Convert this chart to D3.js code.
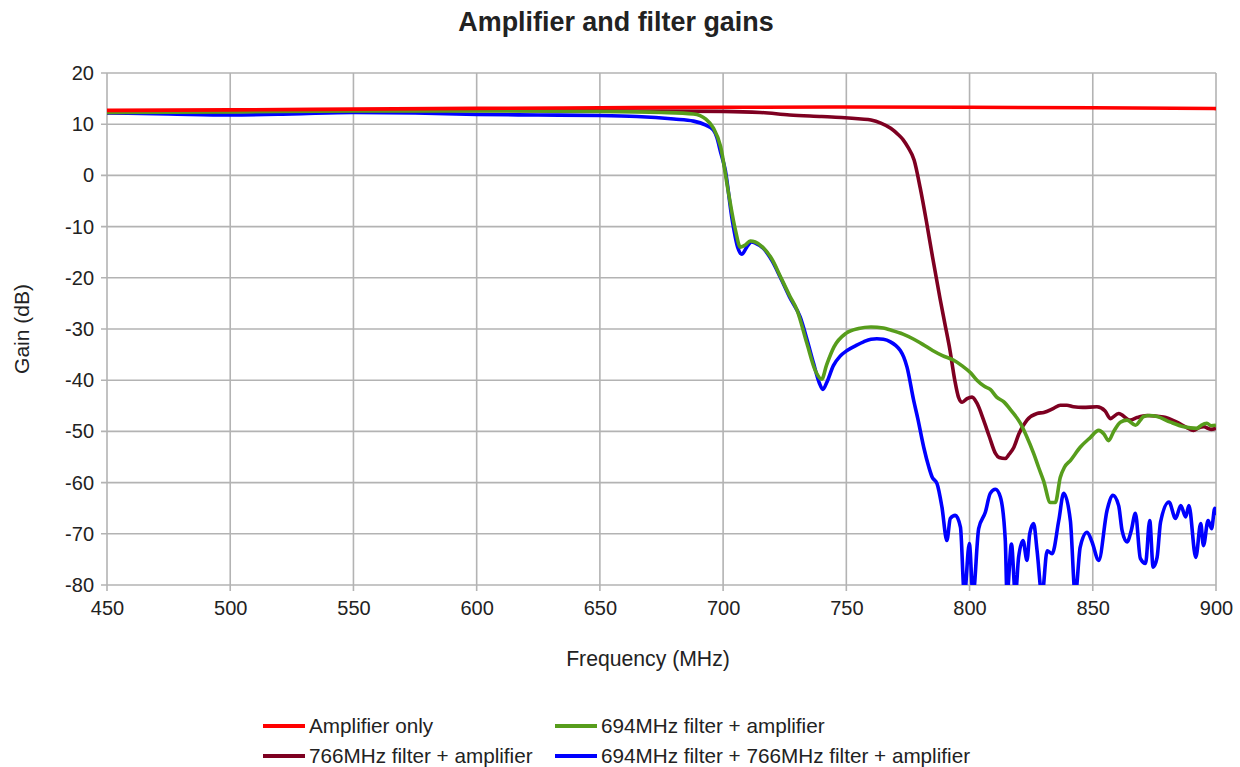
<!DOCTYPE html>
<html>
<head>
<meta charset="utf-8">
<script src="https://cdn.jsdelivr.net/npm/d3@7"></script>
<style>
  body { margin: 0; background: #fff; }
  text { font-family: "Liberation Sans", Arial, sans-serif; fill: #222; }
</style>
</head>
<body>
<svg id="chart" width="1240" height="767"></svg>
<script>
// frequency ticks / gain ticks
var xTicks = [450, 500, 550, 600, 650, 700, 750, 800, 850, 900];
var yTicks = [20, 10, 0, -10, -20, -30, -40, -50, -60, -70, -80];

// amplifier only
var ampFreq = [450, 500, 550, 600, 650, 700, 750, 800, 850, 900];
var ampGain = [12.7, 12.8, 12.95, 13.1, 13.2, 13.3, 13.35, 13.3, 13.2, 13.05];

// 694MHz filter + amplifier
var f694Freq = [450, 500, 550, 600, 650, 675, 688, 693, 696, 699, 702, 705, 707, 709, 711, 713, 716, 720, 723, 727, 730, 734, 737.4, 740, 742, 745, 750, 755, 760, 765, 768, 773, 777, 781, 785, 789, 793.6, 797, 800.3, 803, 806, 808.4, 811, 813.8, 817, 820.6, 823, 826, 828, 830, 832.8, 834.8, 836.8, 838.5, 840.9, 844.9, 849, 852.4, 854.5, 856.4, 858.5, 861.2, 863.9, 867.3, 870.7, 873, 876.1, 881.5, 886.9, 892.3, 894, 896.3, 898, 900];
var f694Gain = [12.3, 12.4, 12.6, 12.6, 12.5, 12.3, 12.0, 11.0, 9.3, 5.6, -2.9, -10.7, -14.0, -13.6, -12.8, -13.0, -14.0, -16.5, -19.5, -23.5, -26.3, -32.8, -38.1, -39.8, -37.0, -33.5, -30.8, -29.9, -29.6, -29.8, -30.2, -31.0, -31.9, -33.0, -34.2, -35.2, -36.1, -37.2, -38.5, -40.0, -41.2, -41.8, -43.3, -44.2, -46.0, -48.4, -50.8, -54.3, -57.0, -59.6, -63.9, -63.9, -59.0, -57.0, -55.7, -53.1, -51.2, -49.8, -50.5, -51.8, -50.0, -48.2, -47.8, -48.8, -47.1, -46.9, -47.1, -48.2, -49.1, -49.4, -48.8, -48.4, -48.9, -48.8];

// 766MHz filter + amplifier
var f766Freq = [450, 500, 550, 600, 650, 700, 715, 727, 740, 748, 756, 760, 764, 768, 771, 773, 775, 777.5, 780, 782.5, 785, 788, 790, 792, 794, 795.5, 797, 799, 801, 803, 805.7, 808, 810.5, 812, 814.5, 816, 818, 820, 823.3, 827.4, 830.1, 834.1, 836.8, 839.5, 842.2, 846, 851.7, 855, 857.1, 860.5, 865.2, 868, 872, 878.7, 884.1, 888, 890.9, 893, 895, 898, 900];
var f766Gain = [12.3, 12.5, 12.7, 12.7, 12.6, 12.5, 12.3, 11.8, 11.5, 11.3, 11.0, 10.8, 10.2, 9.2, 8.0, 7.0, 5.5, 3.0, -2.5, -9.0, -16.0, -24.0, -29.0, -34.0, -40.0, -43.3, -44.3, -43.6, -43.3, -44.5, -47.8, -51.0, -54.3, -55.1, -55.3, -54.5, -53.1, -50.5, -47.8, -46.5, -46.3, -45.5, -44.9, -44.9, -45.2, -45.3, -45.2, -46.0, -47.5, -46.5, -47.8, -47.3, -46.9, -47.2, -48.2, -49.2, -49.8, -49.3, -49.1, -49.6, -49.4];

// 694MHz filter + 766MHz filter + amplifier
var bothFreq = [450, 475, 500, 525, 550, 575, 600, 625, 650, 665, 680, 688, 693, 696, 697.4, 699, 700.9, 703.5, 705.9, 707.6, 709.6, 711.5, 713, 716.4, 720, 723.2, 727, 731.3, 734, 736.7, 739, 740.5, 742, 744.8, 747.5, 750.3, 754, 757, 760, 762.4, 765, 767.9, 770, 771.9, 773.3, 774.6, 777.3, 779, 781.4, 783.5, 784.8, 786.8, 788.8, 790.8, 792.2, 794.2, 796.3, 797.9, 799.9, 801.4, 803.7, 806.4, 808.4, 810.5, 812.5, 814.5, 815.2, 817, 818.6, 819.9, 821.7, 823.3, 824.4, 826, 827.4, 829.4, 831.5, 833.5, 836.2, 838.2, 840.9, 842.9, 844.9, 847.7, 849.7, 852.4, 855.8, 858.2, 860.5, 861.9, 863.9, 865.6, 867.3, 869.3, 871.4, 873.1, 874.5, 876.1, 877.5, 880.9, 883.6, 885.7, 887.7, 889, 891.8, 893.8, 894.9, 896.8, 898.2, 899.5, 900];
var bothGain = [12.2, 12.0, 11.8, 12.0, 12.3, 12.2, 11.9, 11.8, 11.7, 11.5, 11.0, 10.6, 9.8, 8.9, 7.5, 4.5, 1.0, -8.1, -14.0, -15.4, -14.0, -13.0, -13.2, -14.3, -16.8, -19.9, -23.8, -27.7, -32.0, -36.7, -40.5, -41.8, -40.5, -37.1, -35.3, -34.2, -33.2, -32.5, -32.0, -31.9, -32.0, -32.5, -33.2, -34.2, -35.5, -37.4, -43.9, -47.5, -53.1, -57.0, -58.9, -60.2, -64.8, -71.3, -67.0, -66.4, -68.7, -82, -71.9, -82, -69.0, -65.8, -62.1, -61.3, -62.8, -71.3, -82, -72.0, -82, -74.6, -71.3, -75.2, -70.0, -68.0, -73.3, -82, -73.3, -73.9, -67.4, -62.1, -67.4, -82, -72.6, -69.7, -71.6, -75.2, -65.4, -62.5, -64.5, -69.4, -71.6, -69.4, -66.0, -74.8, -75.8, -67.4, -76.5, -74.6, -67.7, -63.8, -67.0, -64.5, -66.7, -64.5, -74.6, -68.0, -72.3, -67.4, -69.0, -65.0, -66.4];

var seriesNames = ['Amplifier only', '694MHz filter + amplifier', '766MHz filter + amplifier', '694MHz filter + 766MHz filter + amplifier'];
var seriesColors = ['#ff0000', '#579d1c', '#7e0021', '#0000ff'];

var svg = d3.select('#chart');
var margin = {left: 107, top: 73, right: 24, bottom: 182};
var width = 1240 - margin.left - margin.right;
var height = 767 - margin.top - margin.bottom;

var x = d3.scaleLinear().domain([450, 900]).range([margin.left, margin.left + width]);
var y = d3.scaleLinear().domain([-80, 20]).range([margin.top + height, margin.top]);

// grid
var grid = svg.append('g').attr('stroke', '#b3b3b3').attr('stroke-width', 1.6);
grid.selectAll('.vgrid').data(xTicks).enter().append('line')
  .attr('x1', function(d) { return x(d); }).attr('x2', function(d) { return x(d); })
  .attr('y1', y(20)).attr('y2', y(-80) + 6);
grid.selectAll('.hgrid').data(yTicks).enter().append('line')
  .attr('x1', x(450) - 6).attr('x2', x(900))
  .attr('y1', function(d) { return y(d); }).attr('y2', function(d) { return y(d); });

// axes (labels only, grid draws ticks)
var xAxis = svg.append('g').attr('transform', 'translate(0,' + (y(-80)) + ')')
  .call(d3.axisBottom(x).tickValues(xTicks).tickSize(0).tickPadding(16));
var yAxis = svg.append('g').attr('transform', 'translate(' + x(450) + ',0)')
  .call(d3.axisLeft(y).tickValues(yTicks).tickSize(0).tickPadding(13).tickFormat(function(d) { return String(d); }));
[xAxis, yAxis].forEach(function(a) {
  a.select('.domain').remove();
  a.selectAll('text').style('font-size', '20px').attr('fill', '#222')
    .style('font-family', '"Liberation Sans", Arial, sans-serif');
});

svg.append('clipPath').attr('id', 'plotclip').append('rect')
  .attr('x', x(450)).attr('y', y(20) - 4).attr('width', width).attr('height', height + 4);

var line = d3.line()
  .x(function(d) { return x(d[0]); })
  .y(function(d) { return y(d[1]); })
  .curve(d3.curveMonotoneX);

function zip(f, g) { return f.map(function(v, i) { return [v, g[i]]; }); }

var series = [zip(ampFreq, ampGain), zip(f694Freq, f694Gain), zip(f766Freq, f766Gain), zip(bothFreq, bothGain)];
var drawOrder = [3, 2, 1, 0];

var plot = svg.append('g').attr('clip-path', 'url(#plotclip)');
drawOrder.forEach(function(i) {
  plot.append('path')
    .datum(series[i])
    .attr('d', line)
    .attr('fill', 'none')
    .attr('stroke', seriesColors[i])
    .attr('stroke-width', 3.6)
    .attr('stroke-linejoin', 'round');
});

// titles
svg.append('text').attr('x', 616).attr('y', 31).attr('text-anchor', 'middle')
  .style('font-size', '26.9px').style('font-weight', 'bold').attr('fill', '#000')
  .text('Amplifier and filter gains');
svg.append('text').attr('x', 648).attr('y', 666).attr('text-anchor', 'middle')
  .style('font-size', '21.2px').text('Frequency (MHz)');
svg.append('text').attr('transform', 'translate(29,329) rotate(-90)').attr('text-anchor', 'middle')
  .style('font-size', '21px').text('Gain (dB)');

// legend
var legendPos = [[263, 726], [555, 726], [263, 756], [555, 756]];
var legend = svg.append('g');
seriesNames.forEach(function(name, i) {
  var p = legendPos[i];
  legend.append('line').attr('x1', p[0]).attr('x2', p[0] + 42).attr('y1', p[1]).attr('y2', p[1])
    .attr('stroke', seriesColors[i]).attr('stroke-width', 4);
  legend.append('text').attr('x', p[0] + 46).attr('y', p[1] + 7)
    .style('font-size', '20.7px').text(name);
});
</script>
</body>
</html>
